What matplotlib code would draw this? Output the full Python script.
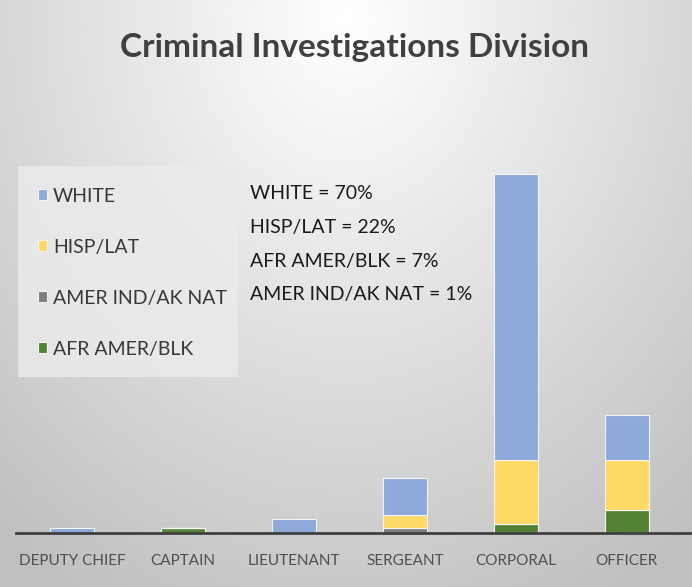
import numpy as np
import matplotlib.pyplot as plt
from matplotlib.patches import Rectangle

plt.rcParams['font.family'] = ['Lato', 'DejaVu Sans']

# ---------------------------------------------------------------- #

categories = ['DEPUTY CHIEF', 'CAPTAIN', 'LIEUTENANT', 'SERGEANT', 'CORPORAL', 'OFFICER']

afr_amer  = [0, 1, 0, 0, 2, 5]
amer_ind  = [0, 0, 0, 1, 0, 0]
hisp_lat  = [0, 0, 0, 3, 14, 11]
white     = [1, 0, 3, 8, 63, 10]

series = [
    ('AFR AMER/BLK', afr_amer, '#548235'),
    ('AMER IND/AK NAT', amer_ind, '#7f7f7f'),
    ('HISP/LAT', hisp_lat, '#ffd966'),
    ('WHITE', white, '#8eaadb'),
]

summary = ['WHITE = 70%', 'HISP/LAT = 22%', 'AFR AMER/BLK = 7%', 'AMER IND/AK NAT = 1%']

# ---------------------------------------------------------------- #

W, H = 692, 587
fig = plt.figure(figsize=(W / 100, H / 100), dpi=100)

# radial grey background
bg = fig.add_axes([0, 0, 1, 1], zorder=-2)
yy, xx = np.mgrid[0:1:300j, 0:1:350j]
r = np.sqrt(((xx - 0.5) / 0.7) ** 2 + ((yy - 0.03) / 1.0) ** 2)
shade = 1 - 0.22 * np.clip(r, 0, 1.15)
bg.imshow(shade, cmap='gray', vmin=0, vmax=1, aspect='auto', extent=[0, 1, 1, 0])
bg.axis('off')

# legend panel
fig.patches.append(Rectangle((18 / W, 1 - 377 / H), 220 / W, 211 / H,
                             transform=fig.transFigure, facecolor='#ebebeb',
                             edgecolor='none', alpha=0.85, zorder=-1))

ax_bottom = 533
ax_top = 160
ax = fig.add_axes([16 / W, 1 - ax_bottom / H, 674 / W, (ax_bottom - ax_top) / H])
ax.patch.set_alpha(0)

x = np.arange(len(categories))
bottom = np.zeros(len(categories))
handles = {}
for name, vals, color in series:
    b = ax.bar(x, vals, width=0.4, bottom=bottom, color=color,
               edgecolor='#f4f4f4', linewidth=0.8, label=name)
    handles[name] = b
    bottom += np.array(vals)

ax.set_xlim(-0.505, 5.57)
ax.set_ylim(0, (ax_bottom - ax_top) / 4.55)

for s in ['top', 'right', 'left']:
    ax.spines[s].set_visible(False)
ax.spines['bottom'].set_color('#404040')
ax.spines['bottom'].set_linewidth(2)
ax.set_yticks([])
ax.set_xticks(x)
ax.set_xticklabels(categories, fontsize=11, color='#505050')
ax.tick_params(axis='x', length=0, pad=15)

fig.text(355 / W, 1 - 47 / H, 'Criminal Investigations Division',
         ha='center', va='center', fontsize=24, fontweight='bold', color='#404040')

order = ['WHITE', 'HISP/LAT', 'AMER IND/AK NAT', 'AFR AMER/BLK']
leg = fig.legend([handles[n] for n in order], order,
                 loc='upper left', bbox_to_anchor=(20 / W, 1 - 170 / H),
                 frameon=False, fontsize=14, labelcolor='#383838',
                 handlelength=0.5, handleheight=0.5, handletextpad=0.3,
                 labelspacing=1.75)

fig.text(250 / W, 1 - 185 / H, '\n'.join(summary), ha='left', va='top',
         fontsize=14, color='#1a1a1a', linespacing=2.2)

fig.savefig('out.png', dpi=100)
